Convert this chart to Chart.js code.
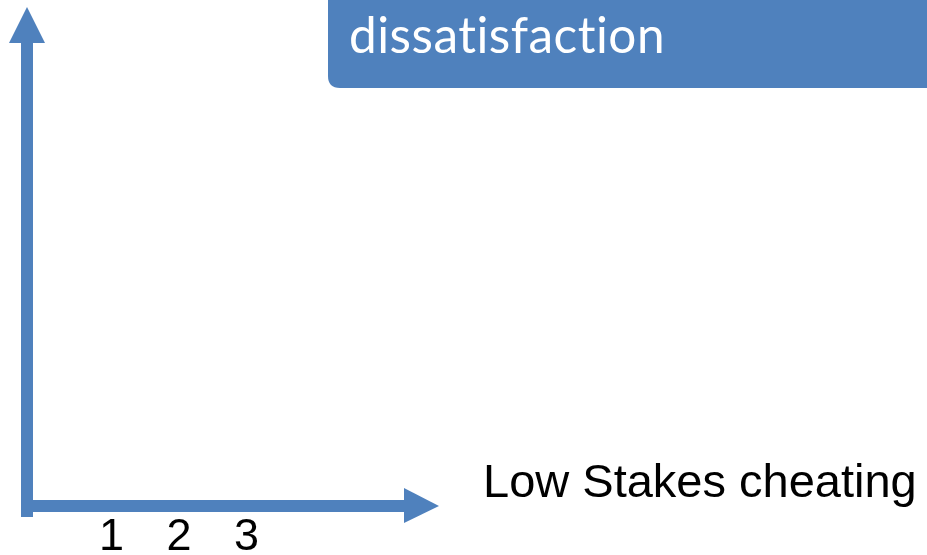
<!DOCTYPE html>
<html>
<head>
    <meta charset="UTF-8">
    <script src="https://cdn.jsdelivr.net/npm/chart.js@4.4.0/dist/chart.umd.min.js"></script>
    <style>
        html, body { margin: 0; padding: 0; background: #fff; overflow: hidden; }
    </style>
</head>
<body>
    <canvas id="myChart" width="927" height="555"></canvas>
    <script>
        // chart content
        const xTickValues = [1, 2, 3];
        const xTickLabels = ['1', '2', '3'];
        const xTitle = 'Low Stakes cheating';
        const yTitle = 'dissatisfaction';
        const points = [];   // the picture has no plotted marks

        const blue = '#4F81BD';

        // arrows, title box and axis caption
        const axesPlugin = {
            id: 'axesArrows',
            beforeDraw(chart) {
                const ctx = chart.ctx;
                const a = chart.chartArea;
                const x0 = a.left, y0 = a.bottom;
                ctx.save();
                ctx.fillStyle = blue;
                // y shaft
                ctx.fillRect(x0 - 6, a.top + 34, 12, y0 + 11 - (a.top + 34));
                // y head
                ctx.beginPath();
                ctx.moveTo(x0 - 18, a.top + 36);
                ctx.lineTo(x0 + 18, a.top + 36);
                ctx.lineTo(x0, a.top);
                ctx.closePath();
                ctx.fill();
                // x shaft
                ctx.fillRect(x0 - 6, y0 - 6, a.right - 34 - (x0 - 6), 12);
                // x head
                ctx.beginPath();
                ctx.moveTo(a.right - 35, y0 - 18);
                ctx.lineTo(a.right - 35, y0 + 17);
                ctx.lineTo(a.right, y0);
                ctx.closePath();
                ctx.fill();

                // title box
                const bx = 328, bh = 88, r = 12;
                ctx.beginPath();
                ctx.moveTo(bx, -10);
                ctx.lineTo(chart.width + 10, -10);
                ctx.lineTo(chart.width + 10, bh);
                ctx.lineTo(bx + r, bh);
                ctx.quadraticCurveTo(bx, bh, bx, bh - r);
                ctx.closePath();
                ctx.fill();

                ctx.fillStyle = '#fff';
                ctx.letterSpacing = '0.5px';   // keeps "ti" from joining
                ctx.font = '40px Lato';
                const w = ctx.measureText(yTitle).width;
                const size = 40 * 318 / w;
                ctx.font = size.toFixed(1) + 'px Lato';
                ctx.textBaseline = 'alphabetic';
                ctx.textAlign = 'left';
                ctx.fillText(yTitle, 349, 53);
                ctx.letterSpacing = '0px';

                // x caption
                ctx.fillStyle = '#000';
                ctx.font = '47px "Liberation Sans"';
                ctx.fillText(xTitle, 483, 497);
                ctx.restore();
            }
        };

        new Chart(document.getElementById('myChart').getContext('2d'), {
            type: 'scatter',
            data: { datasets: [{ data: points }] },
            options: {
                responsive: false,
                animation: false,
                events: [],
                layout: { padding: { left: 27, top: 7, right: 488, bottom: 0 } },
                plugins: { legend: { display: false }, tooltip: { enabled: false } },
                scales: {
                    x: {
                        type: 'linear',
                        min: -0.25,
                        max: 5.85,
                        afterBuildTicks: (scale) => {
                            scale.ticks = xTickValues.map(v => ({ value: v }));
                        },
                        afterFit: (scale) => { scale.height = 49; },
                        grid: { display: false, drawTicks: false },
                        border: { display: false },
                        ticks: {
                            color: '#000',
                            padding: 18,
                            maxRotation: 0,
                            autoSkip: false,
                            font: { family: 'Liberation Sans', size: 45, lineHeight: 0.622 },
                            callback: (v) => xTickLabels[xTickValues.indexOf(v)]
                        }
                    },
                    y: { display: false, min: 0, max: 10 }
                }
            },
            plugins: [axesPlugin]
        });
    </script>
</body>
</html>
